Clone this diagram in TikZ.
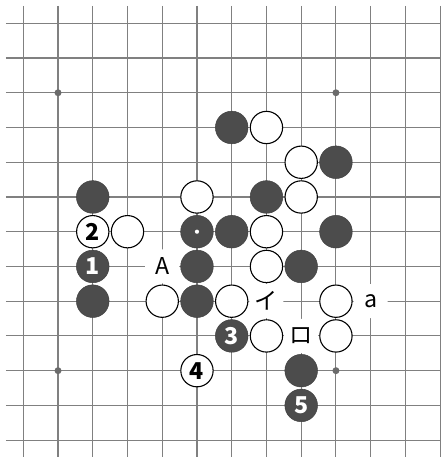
\documentclass[tikz,border=0pt]{standalone}
\usepackage{fontspec}
\newfontfamily\jpfont{Noto Sans CJK JP}

\begin{document}
\begin{tikzpicture}[
  x=1cm, y=-1cm,
  font=\jpfont\fontsize{19}{19}\selectfont,
  boardline/.style={draw=black!50, line width=0.9pt},
  starpt/.style={fill=black!58},
  bstone/.style={circle, fill=black!70, draw=black!75, line width=0.4pt, minimum size=0.94cm, inner sep=0pt,
                 text=white, font=\jpfont\bfseries\fontsize{19}{19}\selectfont},
  wstone/.style={circle, fill=white, draw=black, line width=0.9pt, minimum size=0.93cm, inner sep=0pt,
                 font=\jpfont\bfseries\fontsize{19}{19}\selectfont},
  lbl/.style={circle, fill=white, minimum size=0.98cm, inner sep=0pt}
]
\path[fill=white] (-0.670,-0.670) rectangle (12.010,12.498);
\foreach \k in {0,...,12} {
  \draw[boardline] (-0.5,\k) -- (12.010,\k);
  \draw[boardline] (\k,-0.5) -- (\k,12.498);
}
\fill[starpt] (1,2) circle (0.1);
\fill[starpt] (9,2) circle (0.1);
\fill[starpt] (1,10) circle (0.1);
\fill[starpt] (9,10) circle (0.1);
\node[lbl] (lA) at (4,7) {A};
\node[lbl] (li) at (7,8) {イ};
\node[lbl] (la) at (10,8) {a};
\node[lbl] (lro) at (8,9) {ロ};
\node[bstone] (b-6-3) at (6,3) {};
\node[bstone] (b-9-4) at (9,4) {};
\node[bstone] (b-2-5) at (2,5) {};
\node[bstone] (b-7-5) at (7,5) {};
\node[bstone] (b-5-6) at (5,6) {};
\node[bstone] (b-6-6) at (6,6) {};
\node[bstone] (b-9-6) at (9,6) {};
\node[bstone] (b-2-7) at (2,7) {1};
\node[bstone] (b-5-7) at (5,7) {};
\node[bstone] (b-8-7) at (8,7) {};
\node[bstone] (b-2-8) at (2,8) {};
\node[bstone] (b-5-8) at (5,8) {};
\node[bstone] (b-6-9) at (6,9) {3};
\node[bstone] (b-8-10) at (8,10) {};
\node[bstone] (b-8-11) at (8,11) {5};
\node[wstone] (w-7-3) at (7,3) {};
\node[wstone] (w-8-4) at (8,4) {};
\node[wstone] (w-5-5) at (5,5) {};
\node[wstone] (w-8-5) at (8,5) {};
\node[wstone] (w-2-6) at (2,6) {2};
\node[wstone] (w-3-6) at (3,6) {};
\node[wstone] (w-7-6) at (7,6) {};
\node[wstone] (w-7-7) at (7,7) {};
\node[wstone] (w-4-8) at (4,8) {};
\node[wstone] (w-6-8) at (6,8) {};
\node[wstone] (w-9-8) at (9,8) {};
\node[wstone] (w-7-9) at (7,9) {};
\node[wstone] (w-9-9) at (9,9) {};
\node[wstone] (w-5-10) at (5,10) {4};
\fill[white] (b-5-6.center) circle (0.06);
\end{tikzpicture}
\end{document}
